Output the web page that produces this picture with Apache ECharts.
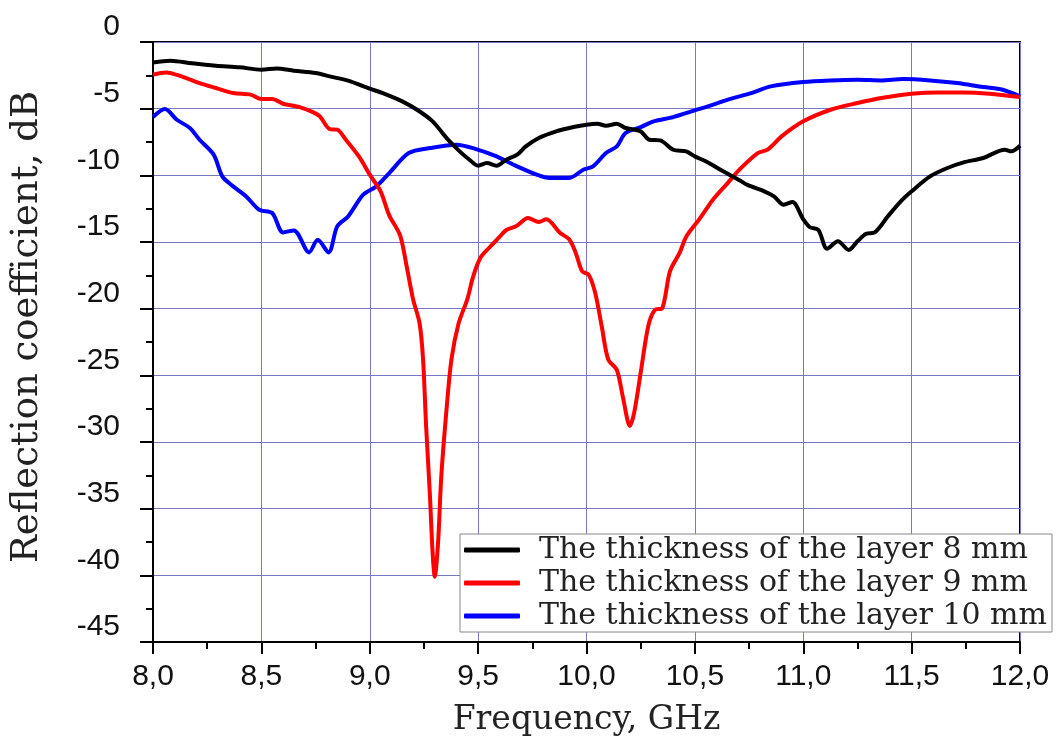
<!DOCTYPE html>
<html>
<head>
<meta charset="utf-8">
<script src="https://cdn.jsdelivr.net/npm/echarts@6/dist/echarts.min.js"></script>
<style>
html,body{margin:0;padding:0;background:#fff;}
#chart{width:1061px;height:742px;}
</style>
</head>
<body>
<div id="chart"></div>
<script>
// Frequency (GHz) and reflection coefficient (dB)
const freq8 = [8.0,8.08,8.18,8.29,8.4,8.5,8.57,8.65,8.75,8.82,8.9,9.0,9.06,9.15,9.22,9.29,9.36,9.415,9.46,9.5,9.54,9.585,9.63,9.68,9.72,9.78,9.86,9.94,10.0,10.05,10.09,10.14,10.18,10.25,10.29,10.34,10.4,10.46,10.5,10.55,10.63,10.71,10.74,10.82,10.865,10.91,10.95,11.0,11.03,11.07,11.11,11.16,11.21,11.25,11.29,11.33,11.39,11.45,11.5,11.585,11.665,11.74,11.83,11.93,11.96,12.0];
const rc8 = [-1.53,-1.4,-1.6,-1.78,-1.9,-2.08,-1.98,-2.15,-2.33,-2.6,-2.9,-3.5,-3.83,-4.45,-5.1,-5.95,-7.3,-8.2,-8.83,-9.28,-9.08,-9.28,-8.83,-8.45,-7.83,-7.2,-6.7,-6.38,-6.2,-6.13,-6.28,-6.13,-6.45,-6.7,-7.33,-7.38,-8.08,-8.2,-8.58,-8.95,-9.7,-10.4,-10.7,-11.2,-11.58,-12.2,-12.0,-13.3,-13.88,-14.1,-15.5,-14.95,-15.6,-14.95,-14.38,-14.28,-13.08,-11.95,-11.2,-10.08,-9.45,-9.03,-8.7,-8.08,-8.2,-7.78];

const freq9 = [8.0,8.06,8.14,8.215,8.29,8.37,8.45,8.5,8.55,8.6,8.68,8.74,8.77,8.815,8.85,8.89,8.95,9.0,9.05,9.09,9.14,9.17,9.2,9.23,9.246,9.26,9.277,9.29,9.3,9.315,9.33,9.354,9.377,9.41,9.45,9.477,9.51,9.55,9.6,9.63,9.677,9.73,9.78,9.815,9.877,9.92,9.95,9.98,10.01,10.04,10.07,10.1,10.14,10.17,10.2,10.22,10.25,10.285,10.315,10.35,10.385,10.43,10.46,10.52,10.585,10.65,10.71,10.79,10.835,10.9,11.0,11.126,11.25,11.36,11.5,11.62,11.74,11.86,12.0];
const rc9 = [-2.45,-2.28,-2.63,-3.08,-3.45,-3.83,-3.95,-4.28,-4.28,-4.63,-4.9,-5.28,-5.58,-6.53,-6.58,-7.33,-8.58,-9.95,-11.2,-13.0,-14.5,-16.8,-19.3,-21.1,-23.8,-28.8,-33.8,-38.3,-40.1,-37.6,-32.6,-27.6,-23.8,-21.1,-19.3,-17.6,-16.2,-15.45,-14.6,-14.1,-13.8,-13.2,-13.5,-13.3,-14.3,-14.8,-15.8,-17.2,-17.45,-18.8,-21.3,-23.8,-24.6,-26.8,-28.8,-27.8,-24.8,-21.3,-20.1,-19.95,-17.2,-15.8,-14.6,-13.3,-11.8,-10.6,-9.5,-8.33,-8.08,-7.08,-5.95,-5.08,-4.58,-4.2,-3.88,-3.78,-3.78,-3.88,-4.13];

const freq10 = [8.0,8.055,8.11,8.17,8.215,8.28,8.32,8.37,8.43,8.49,8.55,8.6,8.65,8.72,8.76,8.81,8.85,8.9,8.97,9.03,9.09,9.18,9.28,9.4,9.49,9.585,9.68,9.77,9.83,9.92,9.985,10.03,10.09,10.14,10.18,10.25,10.31,10.4,10.5,10.585,10.66,10.76,10.85,11.0,11.126,11.25,11.36,11.46,11.585,11.71,11.83,11.92,12.0];
const rc10 = [-5.63,-5.03,-5.83,-6.45,-7.33,-8.45,-10.08,-10.83,-11.58,-12.58,-12.83,-14.28,-14.13,-15.78,-14.83,-15.78,-13.83,-13.08,-11.45,-10.83,-9.83,-8.33,-7.95,-7.7,-8.03,-8.58,-9.33,-9.95,-10.2,-10.2,-9.58,-9.33,-8.33,-7.83,-6.83,-6.38,-5.95,-5.63,-5.13,-4.7,-4.28,-3.83,-3.33,-3.0,-2.88,-2.83,-2.88,-2.78,-2.88,-3.08,-3.38,-3.58,-4.08];

const seriesNames = ['The thickness of the layer 8 mm','The thickness of the layer 9 mm','The thickness of the layer 10 mm'];
const seriesColors = ['#000000','#ff0000','#0000ff'];
const xTitle = 'Frequency, GHz';
const yTitle = 'Reflection coefficient, dB';

function pairs(xs, ys){ return xs.map((x,i)=>[x, ys[i]]); }
const dataSets = [pairs(freq8, rc8), pairs(freq9, rc9), pairs(freq10, rc10)];

const chart = echarts.init(document.getElementById('chart'), null, {renderer:'canvas'});
const labelFont = 'Liberation Sans, Arial, sans-serif';
const serifFont = 'DejaVu Serif, serif';

chart.setOption({
  backgroundColor:'#ffffff',
  animation:false,
  grid:{left:153, right:41, top:42, bottom:99, show:true, borderColor:'#000', borderWidth:2, backgroundColor:'transparent'},
  legend:{
    left:460, top:534,
    orient:'vertical',
    data:seriesNames.map((n,i)=>({name:n, icon:'roundRect', itemStyle:{color:seriesColors[i]}})),
    itemWidth:56, itemHeight:5, itemGap:3,
    padding:[1,5,1,4],
    borderColor:'#888', borderWidth:1, backgroundColor:'#fff',
    textStyle:{fontFamily:serifFont, fontSize:30, color:'#222', padding:[0,0,0,14]}
  },
  xAxis:{
    type:'value', min:8, max:12, interval:0.5,
    name:xTitle, nameLocation:'middle', nameGap:62,
    nameTextStyle:{fontFamily:serifFont, fontSize:33, color:'#222'},
    axisLine:{show:true, onZero:false, lineStyle:{color:'#000', width:2}},
    axisTick:{show:true, length:12, lineStyle:{color:'#000', width:2}},
    minorTick:{show:true, splitNumber:2, length:7, lineStyle:{color:'#000', width:2}},
    axisLabel:{fontFamily:labelFont, fontSize:30, color:'#111', margin:20,
      formatter:v=>v.toFixed(1).replace('.',',')},
    splitLine:{show:true, lineStyle:{color:'#7878c8', width:1}}
  },
  yAxis:{
    type:'value', min:-45, max:0, interval:5,
    name:yTitle, nameLocation:'middle', nameGap:107, nameRotate:90,
    nameTextStyle:{fontFamily:serifFont, fontSize:37, color:'#222', padding:[0,0,0,30]},
    axisLine:{show:true, onZero:false, lineStyle:{color:'#000', width:2}},
    axisTick:{show:true, length:13, lineStyle:{color:'#000', width:2}},
    minorTick:{show:true, splitNumber:2, length:7, lineStyle:{color:'#000', width:2}},
    axisLabel:{fontFamily:labelFont, fontSize:30, color:'#111', margin:33, verticalAlign:'bottom',
      formatter:v=>String(v)},
    splitLine:{show:true, lineStyle:{color:'#7878c8', width:1}}
  },
  series: dataSets.map((d,i)=>({
    name:seriesNames[i], type:'line', data:d, smooth:0.3,
    showSymbol:false, symbol:'none',
    lineStyle:{color:seriesColors[i], width:4},
    itemStyle:{color:seriesColors[i]},
    z: 3 + (2 - i)
  }))
});
</script>
</body>
</html>
